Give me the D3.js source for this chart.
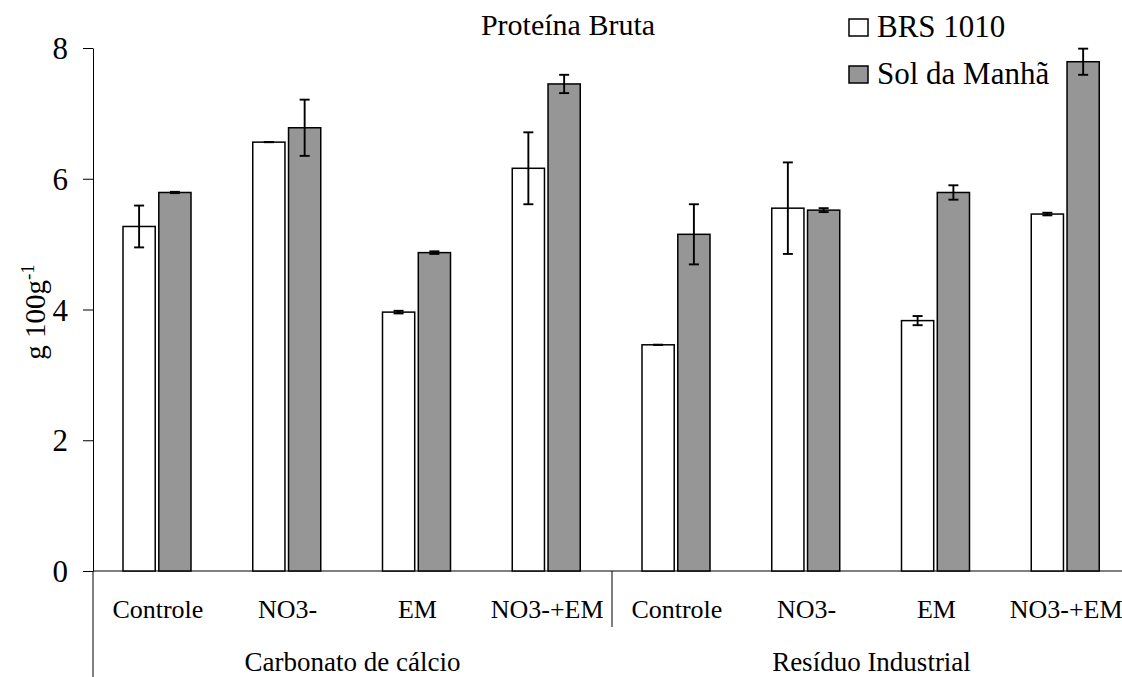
<!DOCTYPE html>
<html>
<head>
<meta charset="utf-8">
<script src="https://cdn.jsdelivr.net/npm/d3@7"></script>
<style>
  body { margin: 0; }
</style>
</head>
<body>
<svg id="chart" width="1122" height="677"></svg>
<script>
const groups = ["Carbonato de cálcio", "Resíduo Industrial"];
const treatments = ["Controle", "NO3-", "EM", "NO3-+EM"];
const seriesNames = ["BRS 1010", "Sol da Manhã"];
const brsValues = [5.27, 6.56, 3.96, 6.16, 3.46, 5.55, 3.83, 5.46];
const brsErrors = [0.32, 0.0, 0.02, 0.55, 0.0, 0.70, 0.07, 0.02];
const solValues = [5.79, 6.78, 4.87, 7.45, 5.15, 5.52, 5.79, 7.79];
const solErrors = [0.01, 0.43, 0.02, 0.14, 0.46, 0.03, 0.11, 0.20];
const yTicks = [0, 2, 4, 6, 8];

const FONT = '"Liberation Serif", "Times New Roman", serif';
const svg = d3.select('#chart');
const colors = { 'BRS 1010': '#ffffff', 'Sol da Manhã': '#969696' };

// one slot per group x treatment
const cats = [];
groups.forEach(g => treatments.forEach(t => cats.push(g + '|' + t)));

const rows = [];
cats.forEach((c, i) => {
  rows.push({ cat: c, series: 'BRS 1010', value: brsValues[i], err: brsErrors[i] });
  rows.push({ cat: c, series: 'Sol da Manhã', value: solValues[i], err: solErrors[i] });
});

const x0 = d3.scaleBand().domain(cats).range([93, 1131]);
const x1 = d3.scaleBand().domain(seriesNames).range([30, 98]).paddingInner(0.1);
const y = d3.scaleLinear().domain([0, 8]).range([571, 48]);

// y axis
const yAxis = svg.append('g')
  .attr('transform', 'translate(93,0)')
  .call(d3.axisLeft(y).tickValues(yTicks).tickSize(10).tickSizeOuter(0).tickPadding(15))
  .attr('font-family', FONT)
  .attr('font-size', 31);
yAxis.selectAll('text')
  .attr('fill', '#000')
  .attr('dy', '0.34em');
yAxis.selectAll('line, path').attr('stroke', '#000');

// axis line goes on below the plot
svg.append('line')
  .attr('x1', 93).attr('x2', 93).attr('y1', y(0)).attr('y2', 677)
  .attr('stroke', '#000');

// x baseline
svg.append('line')
  .attr('x1', 93).attr('x2', 1122).attr('y1', y(0)).attr('y2', y(0))
  .attr('stroke', '#000');

// separator between the two groups
svg.append('line')
  .attr('x1', x0(cats[4])).attr('x2', x0(cats[4]))
  .attr('y1', y(0)).attr('y2', 627)
  .attr('stroke', '#000');

// bars
svg.append('g').selectAll('rect')
  .data(rows)
  .enter()
  .append('rect')
  .attr('x', d => x0(d.cat) + x1(d.series))
  .attr('y', d => y(d.value))
  .attr('width', x1.bandwidth())
  .attr('height', d => y(0) - y(d.value))
  .attr('fill', d => colors[d.series])
  .attr('stroke', '#000')
  .attr('stroke-width', 1.5);

// error bars
const eb = svg.append('g').selectAll('g')
  .data(rows)
  .enter()
  .append('g')
  .attr('transform', d => 'translate(' + (x0(d.cat) + x1(d.series) + x1.bandwidth() / 2) + ',0)')
  .attr('stroke', '#000')
  .attr('stroke-width', 1.9);
eb.append('line').attr('x1', 0).attr('x2', 0)
  .attr('y1', d => y(d.value + d.err)).attr('y2', d => y(d.value - d.err));
eb.append('line').attr('x1', -5).attr('x2', 5)
  .attr('y1', d => y(d.value + d.err)).attr('y2', d => y(d.value + d.err));
eb.append('line').attr('x1', -5).attr('x2', 5)
  .attr('y1', d => y(d.value - d.err)).attr('y2', d => y(d.value - d.err));

// treatment labels
svg.append('g').selectAll('text')
  .data(cats)
  .enter()
  .append('text')
  .attr('x', d => x0(d) + x0.bandwidth() / 2)
  .attr('y', 618)
  .attr('text-anchor', 'middle')
  .style('font-family', FONT)
  .style('font-size', '26px')
  .text(d => d.split('|')[1]);

// group labels
svg.append('g').selectAll('text')
  .data(groups)
  .enter()
  .append('text')
  .attr('x', (d, i) => x0(cats[i * 4]) + x0.bandwidth() * 2)
  .attr('y', 671)
  .attr('text-anchor', 'middle')
  .style('font-family', FONT)
  .style('font-size', '27px')
  .text(d => d);

// title
svg.append('text')
  .attr('x', 568).attr('y', 35)
  .attr('text-anchor', 'middle')
  .style('font-family', FONT)
  .style('font-size', '30px')
  .text('Proteína Bruta');

// y label
const yl = svg.append('text')
  .attr('transform', 'translate(45,312) rotate(-90)')
  .attr('text-anchor', 'middle')
  .style('font-family', FONT)
  .style('font-size', '29px');
yl.append('tspan').text('g 100g');
yl.append('tspan').attr('dy', '-0.6em').style('font-size', '19px').text('-1');

// legend
const legend = svg.append('g').selectAll('g')
  .data(seriesNames)
  .enter()
  .append('g')
  .attr('transform', (d, i) => 'translate(849,' + (19 + i * 47) + ')');
legend.append('rect')
  .attr('width', 19).attr('height', 17)
  .attr('fill', d => colors[d])
  .attr('stroke', '#000').attr('stroke-width', 1.5);
legend.append('text')
  .attr('x', 28).attr('y', 18)
  .style('font-family', FONT)
  .style('font-size', '31px')
  .text(d => d);
</script>
</body>
</html>
